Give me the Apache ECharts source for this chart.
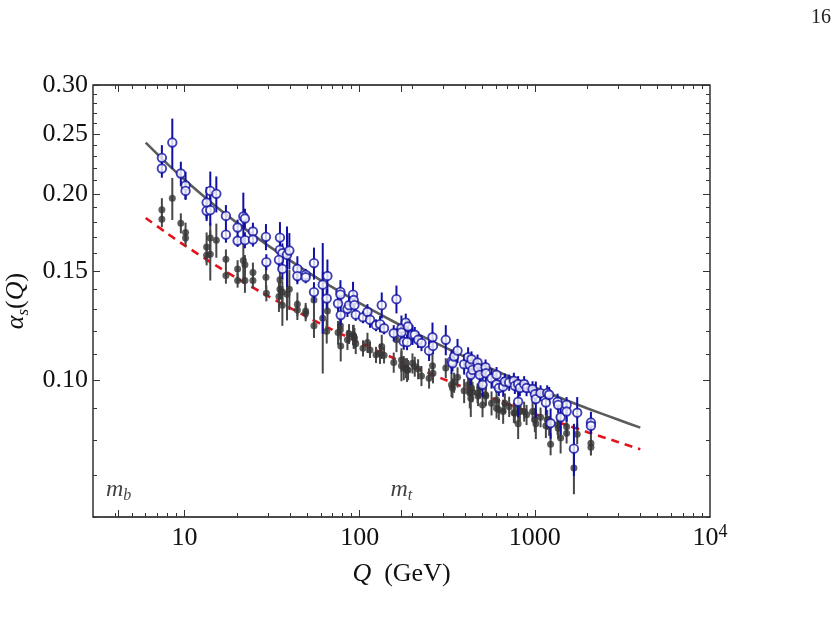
<!DOCTYPE html>
<html>
<head>
<meta charset="utf-8">
<script src="https://cdn.jsdelivr.net/npm/echarts@6/dist/echarts.min.js"></script>
<style>
html,body{margin:0;padding:0;background:#fff;}
#chart{width:840px;height:628px;}
</style>
</head>
<body>
<div id="chart"></div>
<script>
// ---------------- data ----------------
const energies = [7.42,7.42,8.51,9.52,10.13,10.13,13.36,13.36,14.02,14.02,15.18,17.22,17.22,20.08,20.08,21.65,22.11,22.11,24.56,24.56,29.15,29.30,
35.04,35.04,36.17,34.58,36.17,38.43,39.66,44.06,44.06,49.14,49.14,54.8,54.8,61.5,65.4,64.8,75.2,77.6,77.6,77.9,85.1,86.9,91.6,92.4,93.3,94.9,
104.4,110.7,114.5,123.9,130.6,133.6,137.7,156.4,162.1,
173.1,173.1,183.2,188.8,178.4,186.3,200.1,206.2,215.4,225.2,248.9,260.3,262.0,310.0,334.2,338.6,345.9,361.8,394.6,415.8,425.2,430.8,434.8,440.6,
470.6,473.8,485.1,502.6,522.9,525.0,565.8,604.3,604.3,622.9,659.2,674.1,713.3,758.7,768.7,802.8,802.8,820.9,868.7,896.6,
970.3,1000,1013,1078,1156,1176,1207,1230,1348,1359,1403,1518,1518,1671,1745,2090,2090];

const alphaOpen = [0.2287,0.2198,0.2421,0.2157,0.2063,0.2022,0.1936,0.1877,0.2022,0.1882,0.2000,0.1842,0.1718,0.1764,0.1679,0.1838,0.1683,0.1824,0.1738,0.1687,0.1704,0.1551,
0.1699,0.1623,0.1603,0.1564,0.1512,0.1593,0.1619,0.1512,0.1472,0.1479,0.1466,0.1545,0.1387,0.1426,0.1473,0.1354,0.1329,0.1388,0.1374,0.1273,0.1303,0.1321,0.1374,0.1347,0.1321,0.1275,
0.1263,0.1288,0.1251,0.1226,0.1231,0.1321,0.1212,0.1190,0.1351,
0.1212,0.1193,0.1238,0.1220,0.1153,0.1151,0.1183,0.1183,0.1161,0.1147,0.1115,0.1172,0.1135,0.1161,0.1071,0.1064,0.1091,0.1115,0.1060,0.1088,0.1058,0.1019,0.1080,0.1038,
0.1067,0.1045,0.1019,0.0982,0.1048,0.1025,0.1006,0.1019,0.0984,0.0970,0.0975,0.0994,0.0990,0.0997,0.0978,0.0985,0.0922,0.0970,0.0985,0.0970,
0.0966,0.0948,0.0931,0.0952,0.0919,0.0952,0.0946,0.0851,0.0922,0.0911,0.0870,0.0911,0.0889,0.0774,0.0885,0.0853,0.0843];

const errOpen = [0.0111,0.0074,0.0226,0.0097,0.0108,0.0060,0.0116,0.0070,0.0151,0.0105,0.0134,0.0076,0.0051,0.0053,0.0038,0.0171,0.0050,0.0068,0.0058,0.0044,0.0083,0.0046,
0.0101,0.0048,0.0060,0.0047,0.0056,0.0178,0.0109,0.0073,0.0044,0.0033,0.0033,0.0092,0.0052,0.0239,0.0093,0.0050,0.0040,0.0062,0.0041,0.0047,0.0039,0.0039,0.0067,0.0040,0.0030,0.0029,
0.0028,0.0038,0.0037,0.0027,0.0037,0.0064,0.0027,0.0036,0.0070,
0.0059,0.0036,0.0042,0.0036,0.0034,0.0034,0.0044,0.0035,0.0035,0.0034,0.0042,0.0066,0.0034,0.0065,0.0048,0.0032,0.0033,0.0050,0.0040,0.0041,0.0039,0.0038,0.0032,0.0031,
0.0032,0.0031,0.0030,0.0044,0.0031,0.0031,0.0038,0.0030,0.0029,0.0029,0.0036,0.0030,0.0030,0.0030,0.0029,0.0029,0.0052,0.0029,0.0029,0.0029,
0.0029,0.0035,0.0063,0.0028,0.0041,0.0028,0.0028,0.0048,0.0028,0.0027,0.0055,0.0027,0.0033,0.0075,0.0053,0.0035,0.0019];

const alphaFilled = [0.1884,0.1820,0.1968,0.1793,0.1731,0.1696,0.1640,0.1591,0.1696,0.1597,0.1683,0.1568,0.1475,0.1511,0.1448,0.1560,0.1448,0.1535,0.1492,0.1448,0.1466,0.1381,
0.1452,0.1402,0.1388,0.1364,0.1321,0.1376,0.1402,0.1326,0.1298,0.1293,0.1282,0.1347,0.1224,0.1258,0.1292,0.1199,0.1193,0.1223,0.1205,0.1135,0.1161,0.1187,0.1183,0.1175,0.1169,0.1144,
0.1125,0.1149,0.1118,0.1098,0.1102,0.1132,0.1096,0.1067,0.1161,
0.1077,0.1054,0.1045,0.1038,0.1046,0.1038,0.1064,0.1051,0.1041,0.1015,0.1006,0.1054,0.1025,0.1045,0.0982,0.0970,0.0990,0.1010,0.0960,0.0982,0.0952,0.0934,0.0970,0.0956,
0.0952,0.0942,0.0970,0.0911,0.0946,0.0942,0.0917,0.0928,0.0900,0.0895,0.0889,0.0917,0.0905,0.0885,0.0883,0.0905,0.0849,0.0889,0.0889,0.0878,
0.0889,0.0862,0.0849,0.0870,0.0843,0.0862,0.0843,0.0787,0.0846,0.0835,0.0805,0.0840,0.0820,0.0720,0.0817,0.0790,0.0778];

const errFilled = [0.0084,0.0054,0.0154,0.0067,0.0065,0.0051,0.0092,0.0059,0.0101,0.0149,0.0107,0.0058,0.0044,0.0051,0.0038,0.0128,0.0065,0.0057,0.0056,0.0043,0.0066,0.0041,
0.0081,0.0052,0.0052,0.0076,0.0098,0.0128,0.0105,0.0059,0.0048,0.0039,0.0038,0.0075,0.0055,0.0234,0.0072,0.0054,0.0053,0.0055,0.0045,0.0064,0.0043,0.0044,0.0044,0.0053,0.0044,0.0043,
0.0034,0.0043,0.0033,0.0033,0.0041,0.0051,0.0033,0.0040,0.0052,
0.0048,0.0059,0.0039,0.0039,0.0047,0.0046,0.0040,0.0039,0.0039,0.0038,0.0038,0.0047,0.0038,0.0039,0.0044,0.0036,0.0037,0.0038,0.0043,0.0037,0.0053,0.0063,0.0036,0.0036,
0.0035,0.0035,0.0036,0.0041,0.0035,0.0035,0.0041,0.0035,0.0034,0.0034,0.0040,0.0034,0.0034,0.0033,0.0033,0.0034,0.0047,0.0033,0.0033,0.0033,
0.0033,0.0039,0.0047,0.0032,0.0038,0.0032,0.0031,0.0032,0.0032,0.0031,0.0045,0.0031,0.0031,0.0067,0.0030,0.0035,0.0023];

const curveQ = [6,8,10,15,20,30,50,70,100,150,200,300,500,700,1000,1500,2000,3000,4000];
const curveSolid = [0.242,0.2234,0.2108,0.1911,0.1793,0.1649,0.1497,0.1411,0.1331,0.1250,0.1198,0.1132,0.1058,0.1015,0.0972,0.0928,0.0899,0.0862,0.0837];
const curveDashed = [0.1828,0.1724,0.1651,0.1533,0.1459,0.1366,0.1265,0.1205,0.1149,0.1090,0.1052,0.1003,0.0947,0.0914,0.0881,0.0846,0.0823,0.0793,0.0772];

const massQ = [4.2, 173];
const massSub = ['b', 't'];

const xLabelValues = [10, 100, 1000, 10000];
const xMajorTicks = [4.2, 10, 100, 173, 1000];
const xMinorTicks = [4,5,6,7,8,9,20,30,40,50,60,70,80,90,200,300,400,500,600,700,800,900,2000,3000,4000,5000,6000,7000,8000,9000];
const yLabelValues = [0.10, 0.15, 0.20, 0.25, 0.30];
const yMinorTicks = [0.06,0.07,0.08,0.09,0.11,0.12,0.13,0.14,0.16,0.17,0.18,0.19,0.21,0.22,0.23,0.24,0.26,0.27,0.28,0.29];

// ---------------- chart ----------------
const FONT = '"Liberation Serif", "DejaVu Serif", serif';
const TICK = {color: '#333', width: 1};
const X_MIN = 3, X_MAX = 10000, Y_MIN = 0.06, Y_MAX = 0.30;
const LABEL_LEVEL = 0.0665;

function zip3(q, a, e) { return q.map((v, i) => [v, a[i], e[i]]); }
function zip2(q, a) { return q.map((v, i) => [v, a[i]]); }

function xAxisDef(pos, ticks, len, withLabels) {
  const ax = {
    type: 'log', logBase: 10, min: X_MIN, max: X_MAX, position: pos, gridIndex: 0,
    axisLine: {show: false}, splitLine: {show: false}, minorTick: {show: false},
    axisTick: {show: true, inside: true, length: len, customValues: ticks, lineStyle: TICK},
    axisLabel: {show: false}
  };
  if (withLabels) {
    ax.axisLabel = {
      show: true, customValues: xLabelValues, margin: 6,
      fontFamily: FONT, fontSize: 26, color: '#111', lineHeight: 30,
      formatter: v => (Math.abs(v - 10000) < 1e-6 ? '10{sup|4}' : String(Math.round(v))),
      rich: {sup: {fontFamily: FONT, fontSize: 18, lineHeight: 18, verticalAlign: 'top', color: '#111'}}
    };
    ax.name = '{q|Q}  (GeV)';
    ax.nameLocation = 'middle';
    ax.nameGap = 42;
    ax.nameTextStyle = {fontFamily: FONT, fontSize: 26, color: '#111', lineHeight: 30,
      rich: {q: {fontFamily: FONT, fontSize: 26, fontStyle: 'italic', color: '#111', lineHeight: 30}}};
  }
  return ax;
}

function yAxisDef(pos, ticks, len, withLabels) {
  const ax = {
    type: 'log', logBase: 10, min: Y_MIN, max: Y_MAX, position: pos, gridIndex: 0,
    axisLine: {show: false}, splitLine: {show: false}, minorTick: {show: false},
    axisTick: {show: true, inside: true, length: len, customValues: ticks, lineStyle: TICK},
    axisLabel: {show: false}
  };
  if (withLabels) {
    ax.axisLabel = {
      show: true, customValues: yLabelValues, margin: 5,
      fontFamily: FONT, fontSize: 26, color: '#111',
      formatter: v => Number(v).toFixed(2)
    };
    ax.name = '{a|α}{s|s}{b|(}{q|Q}{b|)}';
    ax.nameLocation = 'middle';
    ax.nameGap = 58;
    ax.nameRotate = 90;
    ax.nameTextStyle = {fontFamily: FONT, fontSize: 26, color: '#111', lineHeight: 30,
      rich: {
        a: {fontFamily: FONT, fontSize: 26, fontStyle: 'italic', color: '#111', lineHeight: 30},
        s: {fontFamily: FONT, fontSize: 17, fontStyle: 'italic', color: '#111', lineHeight: 17, verticalAlign: 'bottom'},
        b: {fontFamily: FONT, fontSize: 26, color: '#111', lineHeight: 30},
        q: {fontFamily: FONT, fontSize: 26, fontStyle: 'italic', color: '#111', lineHeight: 30}
      }};
  }
  return ax;
}

function errorBars(color, z) {
  return function (params, api) {
    const q = api.value(0), a = api.value(1), e = api.value(2);
    const p1 = api.coord([q, a - e]);
    const p2 = api.coord([q, a + e]);
    return {
      type: 'line', z2: z,
      shape: {x1: p1[0], y1: p1[1], x2: p2[0], y2: p2[1]},
      style: {stroke: color, lineWidth: 2}
    };
  };
}

const BLUE = '#1010a4';
const DARK = '#363636';

const chart = echarts.init(document.getElementById('chart'), null, {renderer: 'canvas'});
chart.setOption({
  animation: false,
  backgroundColor: '#ffffff',
  grid: {left: 93, top: 85, width: 617, height: 432, show: true, borderColor: '#111', borderWidth: 1.3,
         backgroundColor: 'transparent', containLabel: false, outerBoundsMode: 'none'},
  xAxis: [
    xAxisDef('bottom', xMajorTicks, 7, true),
    xAxisDef('bottom', xMinorTicks, 4, false),
    xAxisDef('top', xMajorTicks, 7, false),
    xAxisDef('top', xMinorTicks, 4, false)
  ],
  yAxis: [
    yAxisDef('left', yLabelValues, 7, true),
    yAxisDef('left', yMinorTicks, 4, false),
    yAxisDef('right', yLabelValues, 7, false),
    yAxisDef('right', yMinorTicks, 4, false)
  ],
  graphic: [
    {type: 'text', left: 811, top: 8, style: {text: '16', font: '20px "Liberation Serif"', fill: '#222'}}
  ],
  series: [
    {
      type: 'line', name: 'solid', data: zip2(curveQ, curveSolid), smooth: 0.3,
      showSymbol: false, symbol: 'none', z: 1,
      lineStyle: {color: '#5c5c5c', width: 2.6}
    },
    {
      type: 'line', name: 'dashed', data: zip2(curveQ, curveDashed), smooth: 0.3,
      showSymbol: false, symbol: 'none', z: 1,
      lineStyle: {color: '#e3121b', width: 2.6, type: [8, 6]}
    },
    {
      type: 'custom', name: 'filledErr', data: zip3(energies, alphaFilled, errFilled),
      renderItem: errorBars('#474747', 1), encode: {x: 0, y: 1}, z: 2, clip: true
    },
    {
      type: 'scatter', name: 'filled', data: zip2(energies, alphaFilled), symbol: 'circle', symbolSize: 7,
      itemStyle: {color: DARK}, z: 3
    },
    {
      type: 'custom', name: 'openErr', data: zip3(energies, alphaOpen, errOpen),
      renderItem: errorBars(BLUE, 1), encode: {x: 0, y: 1}, z: 4, clip: true
    },
    {
      type: 'scatter', name: 'open', data: zip2(energies, alphaOpen), symbol: 'circle', symbolSize: 8.5,
      itemStyle: {color: '#ffffff', borderColor: BLUE, borderWidth: 1.9}, z: 5
    },
    {
      type: 'scatter', name: 'masses', symbolSize: 0, z: 6, silent: true,
      data: massQ.map((q, i) => ({value: [q, LABEL_LEVEL], sub: massSub[i]})),
      label: {
        show: true, position: 'inside',
        formatter: p => '{m|m}{s|' + p.data.sub + '}',
        rich: {
          m: {fontFamily: FONT, fontSize: 24, fontStyle: 'italic', color: '#111', lineHeight: 28},
          s: {fontFamily: FONT, fontSize: 16, fontStyle: 'italic', color: '#111', lineHeight: 16, verticalAlign: 'bottom'}
        }
      }
    }
  ]
});
</script>
</body>
</html>
